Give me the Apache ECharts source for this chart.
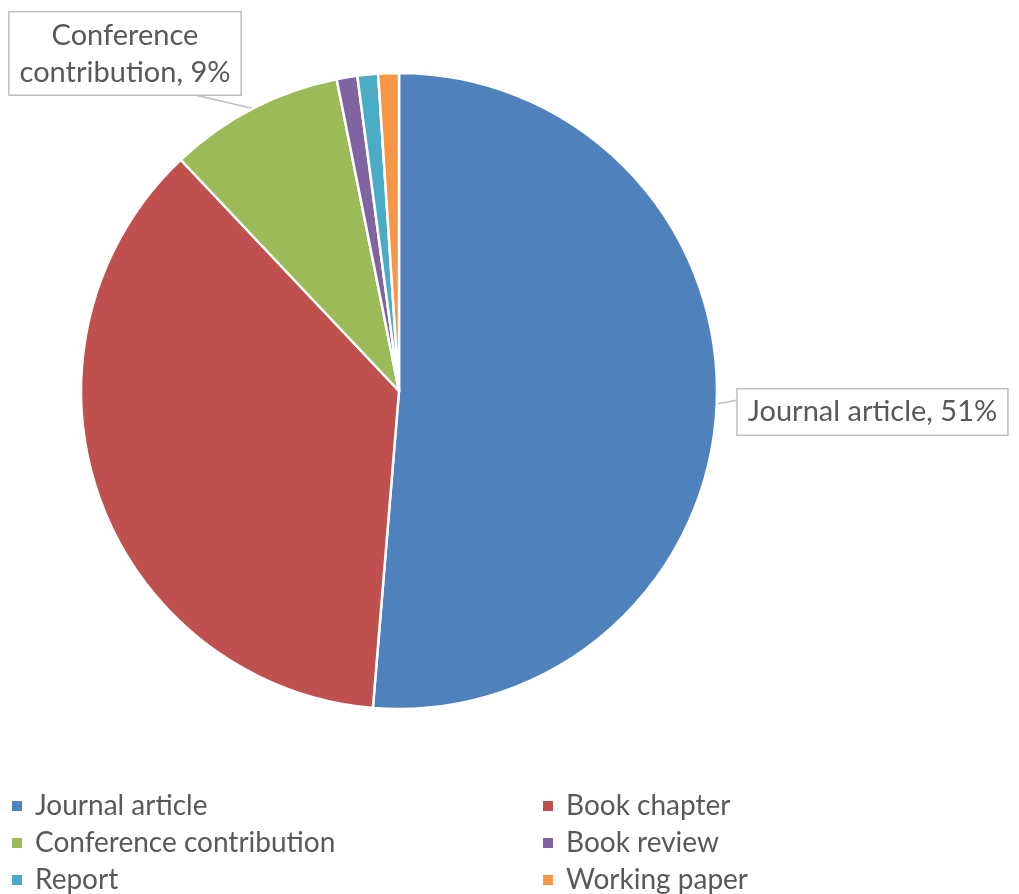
<!DOCTYPE html>
<html>
<head>
<meta charset="utf-8">
<script src="https://cdn.jsdelivr.net/npm/echarts@6/dist/echarts.min.js"></script>
<style>html,body{margin:0;padding:0;background:#fff}#c{width:1019px;height:894px}</style>
</head>
<body>
<div id="c"></div>
<script>
const categories = ['Journal article', 'Book chapter', 'Conference contribution', 'Book review', 'Report', 'Working paper'];
const values = [98, 70, 17, 2, 2, 2];
const colors = ['#4F81BD', '#C0504D', '#9BBB59', '#8064A2', '#4BACC6', '#F79646'];
const labelledItems = ['Journal article', 'Conference contribution'];
const labelNames = {'Journal article': 'Journal article', 'Conference contribution': 'Conference\ncontribution'};

const FONT = 'Lato';
const chart = echarts.init(document.getElementById('c'), null, {renderer: 'canvas'});

const data = categories.map((name, i) => ({
  name: name,
  value: values[i],
  itemStyle: {color: colors[i]},
  label: {show: labelledItems.includes(name)},
  labelLine: {show: labelledItems.includes(name)}
}));

chart.setOption({
  animation: false,
  color: colors,
  legend: {
    left: 10,
    top: 791,
    width: 1080,
    padding: 0,
    orient: 'horizontal',
    itemWidth: 12,
    itemHeight: 12,
    itemGap: 7,
    icon: 'rect',
    data: categories,
    textStyle: {
      fontFamily: FONT, fontSize: 28, color: '#595959',
      width: 499, lineHeight: 30, padding: [0, 0, 0, 7]
    }
  },
  series: [{
    type: 'pie',
    center: [399, 391],
    radius: [0, 318],
    startAngle: 90,
    clockwise: true,
    avoidLabelOverlap: false,
    itemStyle: {borderColor: '#ffffff', borderWidth: 2.5},
    label: {
      position: 'outside',
      formatter: p => (labelNames[p.name] || p.name) + ', ' + Math.round(p.percent) + '%',
      fontFamily: FONT,
      fontSize: 29,
      lineHeight: 37,
      color: '#595959',
      backgroundColor: '#ffffff',
      borderColor: '#bfbfbf',
      borderWidth: 1.5,
      padding: [5, 10, 3, 10],
      align: 'center'
    },
    labelLine: {lineStyle: {color: '#bfbfbf', width: 1.5}, length: 10, length2: 10},
    labelLayout: function (params) {
      const p0 = params.labelLinePoints ? params.labelLinePoints[0] : null;
      if (!p0) return {};
      if (params.dataIndex === 0) {
        return {
          x: p0[0] + 21, y: p0[1] + 8, align: 'left', verticalAlign: 'middle',
          labelLinePoints: [p0, [p0[0] + 21, p0[1] - 4], [p0[0] + 21, p0[1] - 4]]
        };
      }
      if (params.dataIndex === 2) {
        return {
          x: p0[0] - 128, y: p0[1] - 14, align: 'center', verticalAlign: 'bottom',
          labelLinePoints: [p0, [p0[0] - 60, p0[1] - 14], [p0[0] - 108, p0[1] - 14]]
        };
      }
      return {};
    },
    data: data
  }]
});
</script>
</body>
</html>
